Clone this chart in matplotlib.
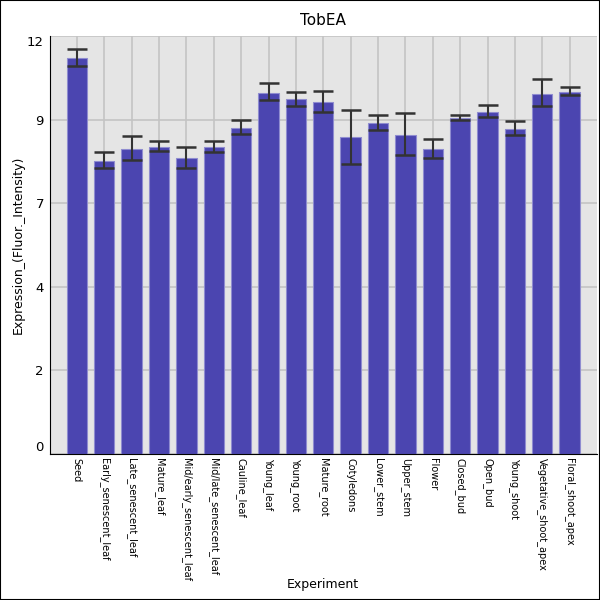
import matplotlib
matplotlib.use("Agg")
import matplotlib.pyplot as plt
from matplotlib.patches import Rectangle
import numpy as np

categories = ["Seed", "Early_senescent_leaf", "Late_senescent_leaf", "Mature_leaf",
              "Mid/early_senescent_leaf", "Mid/late_senescent_leaf", "Cauline_leaf",
              "Young_leaf", "Young_root", "Mature_root", "Cotyledons", "Lower_stem",
              "Upper_stem", "Flower", "Closed_bud", "Open_bud", "Young_shoot",
              "Vegetative_shoot_apex", "Floral_shoot_apex"]
values = [11.37, 8.41, 8.75, 8.81, 8.49, 8.81, 9.36, 10.36, 10.19, 10.10,
          9.10, 9.50, 9.15, 8.75, 9.63, 9.82, 9.33, 10.33, 10.39]
err_upper = [11.63, 8.66, 9.12, 8.99, 8.81, 8.97, 9.58, 10.64, 10.39, 10.43,
             9.87, 9.72, 9.78, 9.05, 9.73, 10.02, 9.56, 10.76, 10.53]
err_lower = [11.13, 8.21, 8.45, 8.69, 8.21, 8.67, 9.17, 10.15, 9.99, 9.82,
             8.33, 9.30, 8.59, 8.49, 9.59, 9.67, 9.15, 9.98, 10.30]
yticks = [0, 2.4, 4.8, 7.2, 9.6, 12]
ytick_labels = ["0", "2", "4", "7", "9", "12"]

fig = plt.figure(figsize=(6, 6), dpi=100)
fig.patches.append(Rectangle((0, 0), 1, 1, transform=fig.transFigure,
                             fill=False, edgecolor="black", linewidth=1.5))
ax = fig.add_axes([0.0825, 0.244, 0.9125, 0.696])
ax.set_facecolor("#e5e5e5")

x = np.arange(len(categories))
vals = np.array(values)
lo = vals - np.array(err_lower)
hi = np.array(err_upper) - vals

ax.bar(x, vals, width=0.74, color="#4b45b0", edgecolor="#8f8cd0", linewidth=0.8, zorder=2)
ax.errorbar(x, vals, yerr=[lo, hi], fmt="none", ecolor="#333333", elinewidth=1.5,
            capsize=7.5, capthick=1.8, zorder=3)

ax.set_xlim(-1, len(categories))
ax.set_ylim(0, 12)
ax.set_yticks(yticks)
ax.set_yticklabels(ytick_labels, fontsize=9.5)
labs = ax.get_yticklabels()
labs[0].set_verticalalignment("bottom")
labs[-1].set_verticalalignment("top")
ax.set_xticks(x)
ax.set_xticklabels(categories, rotation=270, fontsize=7, va="top", ha="center")
ax.tick_params(axis="x", length=0, pad=3)
ax.tick_params(axis="y", length=0, pad=4)

ax.grid(True, color="#c4c4c4", linewidth=1.2, zorder=0)
ax.set_axisbelow(True)
for s in ["top", "right"]:
    ax.spines[s].set_visible(False)
ax.spines["left"].set_color("black")
ax.spines["bottom"].set_color("black")

ax.set_title("TobEA", fontsize=11, pad=8)
ax.set_ylabel("Expression_(Fluor._Intensity)", fontsize=9)
ax.yaxis.set_label_coords(-0.045, 0.5)
ax.set_xlabel("Experiment", fontsize=9)
ax.xaxis.set_label_coords(0.5, -0.298)

fig.savefig("out.png", dpi=100)
